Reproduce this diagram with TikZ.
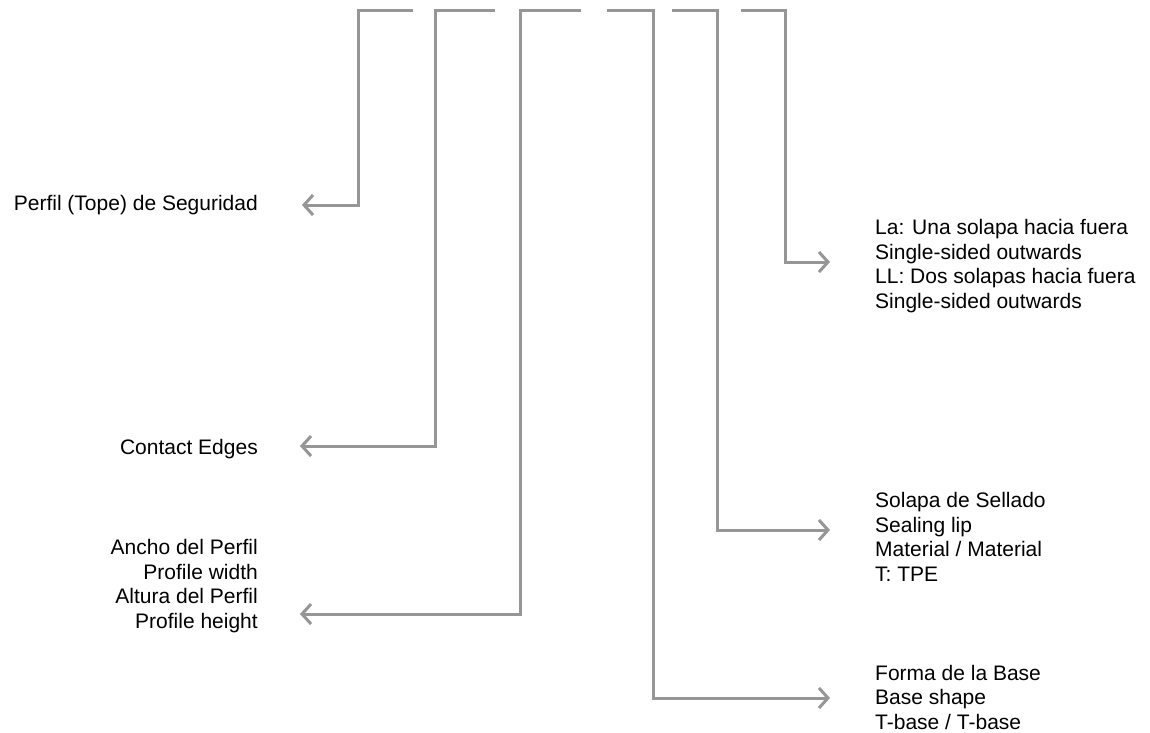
\documentclass[tikz,border=0pt]{standalone}
\usepackage{fontspec}
\setmainfont{Liberation Sans}
\usetikzlibrary{arrows.meta}
\definecolor{lncol}{RGB}{150,150,150}
\begin{document}
\begin{tikzpicture}[x=1pt,y=-1pt,
  conn/.style={draw=lncol,line width=3pt,-{Straight Barb[length=9pt,width=20pt,line width=3pt]}},
  lbl/.style={inner sep=0pt,font=\fontsize{21}{24.5}\selectfont,text=black},
  lft/.style={lbl,anchor=east,align=right},
  rgt/.style={lbl,anchor=west,align=left}]
\useasboundingbox (0,0) rectangle (1150,732);
% labels
\node[lft] (t1) at (258,205) {Perfil (Tope) de Seguridad};
\node[lft] (t2) at (258,449) {Contact Edges};
\node[lft] (t3) at (258,586) {Ancho del Perfil\\Profile width\\Altura del Perfil\\Profile height};
\node[rgt] (t6) at (875,266) {La: Una solapa hacia fuera\\Single-sided outwards\\LL: Dos solapas hacia fuera\\Single-sided outwards};
\node[rgt] (t5) at (875,537) {Solapa de Sellado\\Sealing lip\\Material / Material\\T: TPE};
\node[rgt] (t4) at (875,697) {Forma de la Base\\Base shape\\T-base / T-base};
% connector points
\coordinate (s1) at (413,10); \coordinate (k1) at (358,205); \coordinate (e1) at (302,205);
\coordinate (s2) at (495,10); \coordinate (k2) at (435,446); \coordinate (e2) at (300,446);
\coordinate (s3) at (581,10); \coordinate (k3) at (520,614); \coordinate (e3) at (300,614);
\coordinate (s4) at (607,10); \coordinate (k4) at (653,698); \coordinate (e4) at (830,698);
\coordinate (s5) at (672,10); \coordinate (k5) at (717,530); \coordinate (e5) at (830,530);
\coordinate (s6) at (741,10); \coordinate (k6) at (785,262); \coordinate (e6) at (830,262);
\foreach \i in {1,...,6}{
  \draw[conn] (s\i) -| (k\i) -- (e\i);
}
\end{tikzpicture}
\end{document}
